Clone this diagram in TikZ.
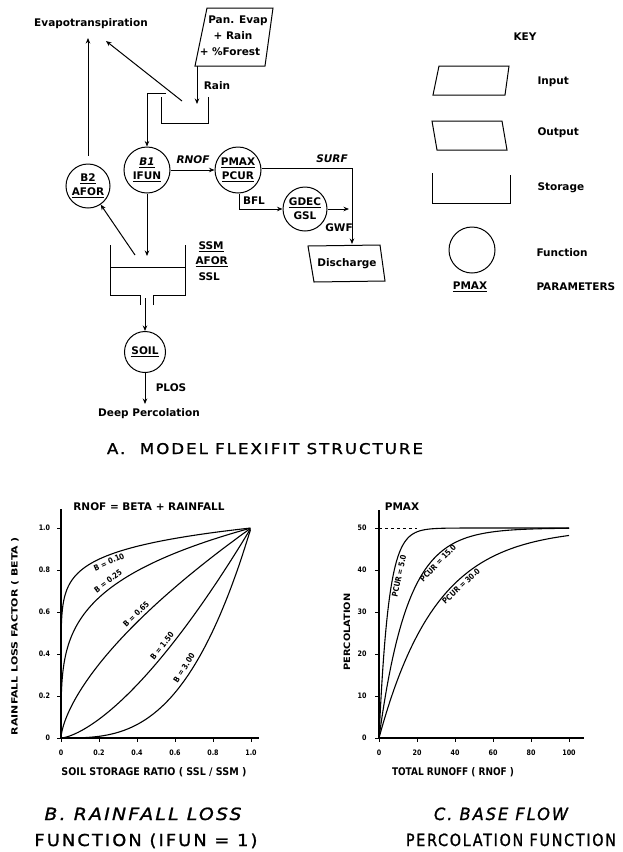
\documentclass[tikz,border=0pt]{standalone}
\usepackage{fontspec}
\usepackage{graphicx}
\setmainfont{DejaVu Sans}
\newfontfamily\gfont[FakeStretch=0.85]{DejaVu Sans}
\newfontfamily\tfont[LetterSpace=12,FakeBold=1.2]{DejaVu Sans}
\usetikzlibrary{arrows.meta}
\newcommand\fitbox[3]{\resizebox{#1pt}{#2pt}{#3}}
\begin{document}
\begin{tikzpicture}[x=1pt,y=-1pt,line width=1pt,
 >={Stealth[length=5.5pt,width=4.5pt]},
 lbl/.style={inner sep=0pt,font=\fontsize{10.5}{13}\selectfont\bfseries},
 ilbl/.style={inner sep=0pt,font=\fontsize{10.5}{13}\selectfont\bfseries\itshape},
 fn/.style={circle,draw,minimum size=46pt,inner sep=0pt,align=center,font=\fontsize{10.5}{14}\selectfont\bfseries},
 gl/.style={inner sep=0pt,font=\gfont\fontsize{8}{10}\selectfont\bfseries},
 tk/.style={inner sep=0pt,font=\gfont\fontsize{7.5}{9}\selectfont\bfseries},
 ttl/.style={inner sep=0pt,anchor=base},
 crv/.style={line width=1.1pt},
 axs/.style={line width=1.3pt}]
\useasboundingbox (0,0) rectangle (622,852);
\fill[white] (0,0) rectangle (622,852);

% ---------------- A: structure ----------------
\node[lbl] (et) at (91,24) {Evapotranspiration};
\coordinate (etL) at (88,38);
\coordinate (etR) at (106,41);

% input box
\draw (207,8) -- (273,8) -- (265,66) -- (195,66) -- cycle;
\node[lbl] (pan1) at (238,21) {Pan. Evap};
\node[lbl] (pan2) at (233,36) {+ Rain};
\node[lbl] (pan3) at (230,52) {+ \%Forest};
\coordinate (panOut) at (197,66);
\coordinate (rainTip) at (197,104);
\draw[->] (panOut) -- (rainTip);
\node[lbl] (rain) at (217,86) {Rain};

% top storage
\draw (161,97) -- (161,123) -- (208,123) -- (208,97);
\coordinate (stOutT) at (147,93);
\draw (166,93) -- (stOutT);

% functions
\node[fn] (b1) at (147,170) {\underline{\itshape B1}\\\underline{IFUN}};
\node[fn,minimum size=44pt] (b2) at (88,186) {\underline{B2}\\\underline{AFOR}};
\node[fn] (pm) at (238,170) {\underline{PMAX}\\\underline{PCUR}};
\node[fn,minimum size=44pt] (gd) at (305,209) {\underline{GDEC}\\GSL};
\node[fn,minimum size=41pt] (soil) at (145,352) {\underline{SOIL}};

\draw[->] (stOutT) -- (b1.north);
\coordinate (stET) at (182,101);
\draw[->] (stET) -- (etR);
\draw[->] ([yshift=8pt]b2.north) -- (etL);

% RNOF
\draw[->] (b1) -- (pm);
\node[ilbl] (rnof) at (193,160) {RNOF};

% SURF
\coordinate (sj) at (352,168);
\coordinate (disTop) at (352,244);
\draw[->] ([yshift=2pt]pm.east) -- (sj) -- (disTop);
\node[ilbl] (surf) at (332,159) {SURF};

% BFL
\coordinate (bj) at (239,209);
\draw[->] ([xshift=1pt]pm.south) -- (bj) -- (gd.west);
\node[lbl] (bfl) at (254,201) {BFL};

% GWF
\coordinate (gwTip) at (349,209);
\draw[->] (gd.east) -- (gwTip);
\node[lbl] (gwf) at (339,228) {GWF};

% discharge
\draw (308,246) -- (380,245) -- (385,281) -- (314,282) -- cycle;
\node[lbl] (dis) at (347,264) {Discharge};

% lower storage
\coordinate (stIn) at (147,256);
\draw[->] (b1.south) -- (stIn);
\draw (110,245) -- (110,295) -- (140,295) -- (140,305);
\draw (153,305) -- (153,295) -- (185,295) -- (185,245);
\draw (110,267) -- (185,267);
\coordinate (stOut) at (145,298);
\draw[->] (stOut) -- (soil.north);
\coordinate (stB2) at (135,255);
\draw[->] (stB2) -- (b2);
\node[lbl,anchor=west] (ssm) at (198,247) {\underline{SSM}};
\node[lbl,anchor=west] (afor) at (195,262) {\underline{AFOR}};
\node[lbl,anchor=west] (ssl) at (198,277) {SSL};

% deep percolation
\coordinate (dpTip) at (145,404);
\draw[->] (soil.south) -- (dpTip);
\node[lbl] (plos) at (171,388) {PLOS};
\node[lbl] (deep) at (149,414) {Deep Percolation};

\node[ttl] (tA) at (265,454) {\fitbox{316}{11}{\tfont A.\ \ MODEL FLEXIFIT STRUCTURE}};

% ---------------- key ----------------
\node[lbl] (key) at (525,37) {KEY};
\draw (439,66) -- (509,66) -- (505,95) -- (433,95) -- cycle;
\node[lbl,anchor=west] (kin) at (537,82) {Input};
\draw (432,121) -- (502,121) -- (507,150) -- (437,150) -- cycle;
\node[lbl,anchor=west] (kout) at (537,133) {Output};
\draw (432,173) -- (432,203) -- (510,203) -- (510,175);
\node[lbl,anchor=west] (kst) at (537,188) {Storage};
\node[circle,draw,minimum size=46pt,inner sep=0pt] (kfn) at (472,250) {};
\node[lbl,anchor=west] (kfl) at (536,253) {Function};
\node[lbl] (kpm) at (470,287) {\underline{PMAX}};
\node[lbl,anchor=west] (kpar) at (536,287) {PARAMETERS};

% ---------------- B: rainfall loss graph ----------------
\node[lbl] (bttl) at (149,507) {RNOF = BETA + RAINFALL};
\begin{scope}[shift={(61,738)},x=190pt,y=210pt]
 \draw[axs] (0,0) -- (0,1.09);
 \draw[axs] (0,0) -- (1.04,0);
 \foreach \v/\t [count=\i] in {0/0,0.2/0.2,0.4/0.4,0.6/0.6,0.8/0.8,1/1.0}{
   \draw (-0.021,\v) -- (0,\v);
   \node[tk,anchor=east] (byl\i) at (-0.055,\v) {\t};
   \draw (\v,0) -- (\v,-0.02);
   \node[tk] (bxl\i) at (\v,-0.072) {\t};
 }
 \foreach \b in {0.10,0.25,0.65,1.5,3.0}{
   \draw[crv] (0,0) -- plot[smooth,domain=0.02:1,samples=70,variable=\t] ({\t^4},{\t^(4*\b)});
 }
\end{scope}
\node[gl,rotate=24] (lb1) at (109,562) {B = 0.10};
\node[gl,rotate=37] (lb2) at (108,581) {B = 0.25};
\node[gl,rotate=44] (lb3) at (136,614) {B = 0.65};
\node[gl,rotate=51] (lb4) at (162,646) {B = 1.50};
\node[gl,rotate=57] (lb5) at (184,668) {B = 3.00};
\node[inner sep=0pt,rotate=90] (bya) at (15,636) {\fitbox{198}{6.5}{\gfont\bfseries RAINFALL LOSS FACTOR ( BETA )}};
\node[ttl] (bxa) at (154,775) {\fitbox{185}{8}{\gfont\bfseries SOIL STORAGE RATIO ( SSL / SSM )}};
\node[ttl] (bt1) at (143,820) {\fitbox{197}{12.5}{\tfont\itshape B. RAINFALL LOSS}};
\node[ttl] (bt2) at (146,846) {\fitbox{223}{12.5}{\tfont FUNCTION (IFUN = 1)}};

% ---------------- C: percolation graph ----------------
\node[lbl] (cttl) at (402,507) {PMAX};
\begin{scope}[shift={(379,738)},x=1.9pt,y=4.2pt]
 \draw[axs] (0,0) -- (0,54.3);
 \draw[axs] (0,0) -- (108,0);
 \foreach \v [count=\i] in {0,10,20,30,40,50}{
   \draw (-2.1,\v) -- (0,\v);
   \node[tk,anchor=east] (cyl\i) at (-6.3,\v) {\v};
 }
 \foreach \v [count=\i] in {0,20,40,60,80,100}{
   \draw (\v,0) -- (\v,-0.95);
   \node[tk] (cxl\i) at (\v,-3.6) {\v};
 }
 \draw[dashed] (0,50) -- (20,50);
 \foreach \p in {5,15,30}{
   \draw[crv] plot[smooth,domain=0:100,samples=201] (\x,{50*(1-exp(-\x/\p))});
 }
\end{scope}
\node[gl,rotate=78] (lc1) at (399,576) {PCUR = 5.0};
\node[gl,rotate=46] (lc2) at (438,563) {PCUR = 15.0};
\node[gl,rotate=43] (lc3) at (461,586) {PCUR = 30.0};
\node[inner sep=0pt,rotate=90] (cya) at (347,632) {\fitbox{77}{6.5}{\gfont\bfseries PERCOLATION}};
\node[ttl] (cxa) at (453,775) {\fitbox{122}{8}{\gfont\bfseries TOTAL RUNOFF ( RNOF )}};
\node[ttl] (ct1) at (501,820) {\fitbox{134}{12.5}{\tfont\itshape C. BASE FLOW}};
\node[ttl] (ct2) at (511,846) {\fitbox{210}{12.5}{\tfont PERCOLATION FUNCTION}};
\end{tikzpicture}
\end{document}
